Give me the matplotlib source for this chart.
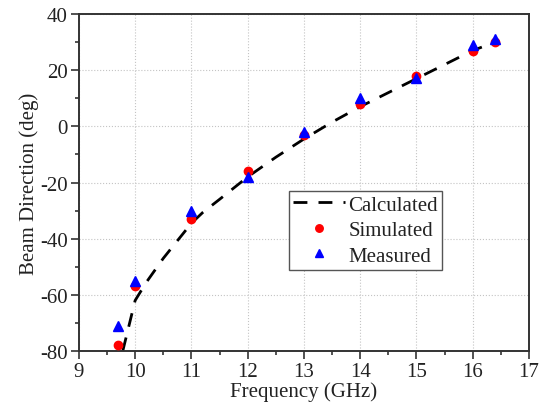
import numpy as np
import matplotlib
matplotlib.use("Agg")
import matplotlib.pyplot as plt
from matplotlib.ticker import MultipleLocator

# values
freq_pts = [9.7, 10.0, 11.0, 12.0, 13.0, 14.0, 15.0, 16.0, 16.4]
simulated = [-78.0, -57.0, -33.0, -16.0, -3.0, 8.0, 18.0, 27.0, 30.0]
measured = [-71.0, -55.0, -30.0, -18.0, -2.0, 10.0, 17.2, 29.0, 31.2]

freq_calc = [9.78, 10.0, 10.2, 10.5, 10.8, 11.0, 11.2, 11.5, 12.0, 12.5,
             13.0, 13.5, 14.0, 14.5, 15.0, 15.5, 16.0, 16.2]
calculated = [-80.0, -62.0, -55.5, -47.0, -39.5, -34.5, -30.7, -26.0, -18.0, -11.0,
              -4.5, 1.5, 7.0, 12.0, 17.0, 22.0, 27.0, 28.5]

plt.rcParams["font.family"] = ["Liberation Serif", "DejaVu Serif"]
plt.rcParams["font.size"] = 15
plt.rcParams["axes.unicode_minus"] = False

fig = plt.figure(figsize=(5.44, 4.06), dpi=100)
ax = fig.add_axes([0.145, 0.133, 0.8274, 0.830])

ax.plot(freq_calc, calculated, "k--", lw=2, dashes=(5, 4), label="Calculated", zorder=2)
ax.plot(freq_pts, simulated, "o", color="#ff0000", ms=6, mec="#ff0000", label="Simulated", zorder=3)
ax.plot(freq_pts, measured, "^", color="#0000ff", ms=7, mec="#0000ff", label="Measured", zorder=4)

ax.set_xlim(9, 17)
ax.set_ylim(-80, 40)
ax.xaxis.set_major_locator(MultipleLocator(1))
ax.xaxis.set_minor_locator(MultipleLocator(0.5))
ax.yaxis.set_major_locator(MultipleLocator(20))
ax.yaxis.set_minor_locator(MultipleLocator(10))
ax.tick_params(which="both", direction="out", top=False, right=False, colors="#333333",
               labelcolor="#222222", width=1.2)
ax.tick_params(which="major", length=6, labelsize=15, pad=2)
ax.tick_params(which="minor", length=3)
ax.grid(True, which="major", ls=":", color="#c4c4c4", lw=0.8)
for s in ax.spines.values():
    s.set_linewidth(1.4)
    s.set_color("#333333")

ax.set_xlabel("Frequency (GHz)", fontsize=15, labelpad=0, color="#222222")
ax.set_ylabel("Beam Direction (deg)", fontsize=15, labelpad=1, color="#222222")

leg = ax.legend(loc="upper left", bbox_to_anchor=(0.467, 0.475), fontsize=15,
                frameon=True, fancybox=False, edgecolor="#555555", framealpha=1,
                handlelength=2.5, handletextpad=0.15, borderpad=0.2,
                borderaxespad=0, labelspacing=0.28, markerscale=0.9)
leg.get_frame().set_linewidth(1.0)
for t in leg.get_texts():
    t.set_color("#222222")

fig.savefig("out.png", dpi=100)
